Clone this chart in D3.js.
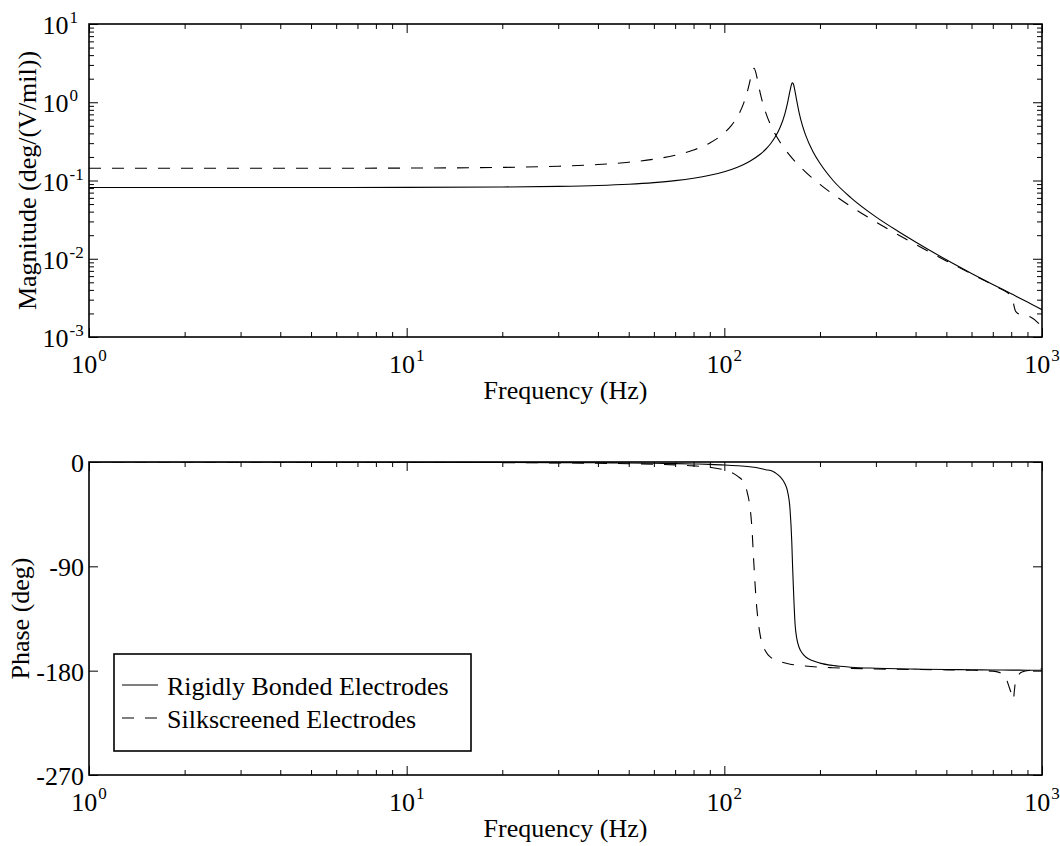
<!DOCTYPE html>
<html>
<head>
<meta charset="utf-8">
<script src="https://cdn.jsdelivr.net/npm/d3@7"></script>
<style>
  body { margin: 0; background: #fff; }
  text { font-family: "Liberation Serif", "Times New Roman", serif; fill: #000; }
</style>
</head>
<body>
<svg id="chart" width="1060" height="846"></svg>
<script>
// ---- Frequency response: rigidly bonded electrodes ----
const rigidFreq  = [1, 2, 5, 10, 20, 30, 40, 50, 60, 70, 80, 90, 100, 110, 120, 130, 135, 140, 145, 150,
                    155, 158, 161, 163, 164, 165, 167, 169, 172, 176, 180, 190, 200, 220, 250, 300, 350,
                    400, 500, 600, 700, 800, 900, 1000];
const rigidMag   = [0.0814, 0.0814, 0.0815, 0.0817, 0.0826, 0.0842, 0.0865, 0.0897, 0.094, 0.0995, 0.1068,
                    0.1165, 0.1296, 0.148, 0.1752, 0.218, 0.2508, 0.2971, 0.3667, 0.4822, 0.7063, 0.9659,
                    1.409, 1.727, 1.777, 1.708, 1.369, 1.046, 0.7337, 0.5105, 0.3862, 0.2351, 0.166, 0.1,
                    0.0605, 0.0343, 0.0228, 0.0164, 0.0097, 0.0065, 0.0047, 0.00357, 0.0028, 0.00223];
const rigidPhase = [0, -0.03, -0.08, -0.16, -0.33, -0.5, -0.68, -0.88, -1.11, -1.37, -1.68, -2.06, -2.55,
                    -3.2, -4.13, -5.58, -6.67, -7.4, -9.5, -12.8, -18.5, -25, -41, -68, -90, -109, -140,
                    -152, -160, -165, -168, -171.5, -173.5, -175.6, -177, -177.9, -178.4, -178.7, -179,
                    -179.2, -179.4, -179.5, -179.6, -179.7];

// ---- Frequency response: silkscreened electrodes ----
const silkFreq  = [1, 2, 5, 10, 20, 30, 40, 50, 60, 70, 80, 90, 100, 105, 110, 115, 118, 120, 122, 124,
                   126, 128, 130, 135, 140, 145, 150, 160, 180, 200, 220, 250, 300, 350, 400, 500, 600,
                   700, 737, 760, 790, 805, 813, 818, 825, 840, 852, 870, 920, 970, 1000];
const silkMag   = [0.1432, 0.1432, 0.1434, 0.1441, 0.147, 0.1521, 0.1598, 0.171, 0.187, 0.2102, 0.2453,
                   0.3016, 0.4066, 0.4999, 0.6564, 0.9665, 1.34, 1.76, 2.354, 2.722, 2.289, 1.682, 1.263,
                   0.7383, 0.5095, 0.3843, 0.3062, 0.2142, 0.129, 0.0894, 0.0667, 0.0467, 0.0295, 0.02055,
                   0.01522, 0.00939, 0.00639, 0.00464, 0.00416, 0.00392, 0.0035, 0.00312, 0.00272, 0.0024,
                   0.00215, 0.002, 0.00195, 0.00191, 0.0018, 0.00153, 0.00134];
const silkPhase = [0, -0.05, -0.12, -0.24, -0.5, -0.77, -1.09, -1.45, -1.9, -2.5, -3.33, -4.61, -6.92,
                   -8.9, -12.2, -17.5, -26, -36, -55, -90, -120, -139, -151, -163.5, -168.5, -170.8, -172.3,
                   -174.2, -176, -177, -177.5, -178, -178.5, -178.8, -179, -179.3, -179.6, -180.4, -181.7,
                   -183.3, -195, -201.5, -205, -198, -189.5, -184.5, -182.3, -181, -179.6, -178.8, -178.3];

// ---- Axis ticks and labels ----
const freqDecades   = [0, 1, 2, 3];          // 10^0 .. 10^3 Hz
const magDecades    = [-3, -2, -1, 0, 1];    // 10^-3 .. 10^1
const phaseTicks    = [0, -90, -180, -270];
const legendLabels  = ["Rigidly Bonded Electrodes", "Silkscreened Electrodes"];
const freqLabel     = "Frequency (Hz)";
const magLabel      = "Magnitude (deg/(V/mil))";
const phaseLabel    = "Phase (deg)";

// ---- Layout ----
const left = 89, right = 1042;
const magTop = 24, magBottom = 337;
const phTop = 462, phBottom = 775;
const fontSize = 26, supSize = 17;
const majorLen = 9, minorLen = 5;
const dash = "12,11";

const svg = d3.select("#chart");
svg.append("rect").attr("width", 1060).attr("height", 846).attr("fill", "#fff");

const x = d3.scaleLog().domain([1, 1000]).range([left, right]);
const yMag = d3.scaleLog().domain([1e-3, 10]).range([magBottom, magTop]);
const yPh = d3.scaleLinear().domain([-270, 0]).range([phBottom, phTop]);

const freqMajor = freqDecades.map(d => Math.pow(10, d));
const freqMinor = [];
freqDecades.slice(0, -1).forEach(d => { for (let k = 2; k <= 9; k++) freqMinor.push(k * Math.pow(10, d)); });
const magMajor = magDecades.map(d => Math.pow(10, d));
const magMinor = [];
magDecades.slice(0, -1).forEach(d => { for (let k = 2; k <= 9; k++) magMinor.push(k * Math.pow(10, d)); });

function tickAxis(g, axisFn, scale, values, len, tx, ty) {
  const a = axisFn(scale).tickValues(values).tickSize(-len).tickFormat("");
  const sel = g.append("g").attr("transform", `translate(${tx},${ty})`).call(a);
  sel.select(".domain").remove();
  sel.selectAll(".tick line").attr("stroke", "#000").attr("stroke-width", 1);
}

function drawPanel(id, yScale, top, bottom, yMajor, yMinor) {
  const g = svg.append("g").attr("class", id);
  // ticks on all four sides, pointing inward
  tickAxis(g, d3.axisBottom, x, freqMajor, majorLen, 0, bottom);
  tickAxis(g, d3.axisBottom, x, freqMinor, minorLen, 0, bottom);
  tickAxis(g, d3.axisTop, x, freqMajor, majorLen, 0, top);
  tickAxis(g, d3.axisTop, x, freqMinor, minorLen, 0, top);
  tickAxis(g, d3.axisLeft, yScale, yMajor, majorLen, left, 0);
  tickAxis(g, d3.axisRight, yScale, yMajor, majorLen, right, 0);
  if (yMinor.length) {
    tickAxis(g, d3.axisLeft, yScale, yMinor, minorLen, left, 0);
    tickAxis(g, d3.axisRight, yScale, yMinor, minorLen, right, 0);
  }
  // frequency tick labels, 10 with exponent
  freqDecades.forEach(d => {
    const t = g.append("text").attr("x", x(Math.pow(10, d))).attr("y", bottom + 36)
      .attr("text-anchor", "middle").attr("font-size", fontSize);
    t.append("tspan").text("10");
    t.append("tspan").attr("dx", 1).attr("dy", -12).attr("font-size", supSize).text(d);
  });
  g.append("text").attr("x", (left + right) / 2).attr("y", bottom + 62)
    .attr("text-anchor", "middle").attr("font-size", fontSize).text(freqLabel);
  // frame
  g.append("rect").attr("x", left).attr("y", top).attr("width", right - left).attr("height", bottom - top)
    .attr("fill", "none").attr("stroke", "#000").attr("stroke-width", 1.6);
  return g;
}

// ---- Magnitude panel ----
const gMag = drawPanel("magnitude", yMag, magTop, magBottom, magMajor, magMinor);
magDecades.forEach(d => {
  const yy = yMag(Math.pow(10, d)) + 10;
  gMag.append("text").attr("x", 68.5).attr("y", yy).attr("text-anchor", "end")
    .attr("font-size", fontSize).text("10");
  gMag.append("text").attr("x", 69.5).attr("y", yy - 11).attr("font-size", supSize).text(d);
});
gMag.append("text").attr("transform", `translate(36,${(magTop + magBottom) / 2}) rotate(-90)`)
  .attr("text-anchor", "middle").attr("font-size", fontSize).text(magLabel);

// ---- Phase panel ----
const gPh = drawPanel("phase", yPh, phTop, phBottom, phaseTicks, []);
phaseTicks.forEach(v => {
  gPh.append("text").attr("x", 84).attr("y", yPh(v) + 10).attr("text-anchor", "end")
    .attr("font-size", fontSize).text(v);
});
gPh.append("text").attr("transform", `translate(29,${(phTop + phBottom) / 2}) rotate(-90)`)
  .attr("text-anchor", "middle").attr("font-size", fontSize).text(phaseLabel);

// ---- Curves ----
const defs = svg.append("defs");
defs.append("clipPath").attr("id", "clipMag").append("rect")
  .attr("x", left).attr("y", magTop).attr("width", right - left).attr("height", magBottom - magTop);
defs.append("clipPath").attr("id", "clipPh").append("rect")
  .attr("x", left).attr("y", phTop).attr("width", right - left).attr("height", phBottom - phTop);

function series(freq, vals) { return freq.map((f, i) => ({ f, v: vals[i] })); }

const magLine = d3.line().x(d => x(d.f)).y(d => yMag(d.v)).curve(d3.curveMonotoneX);
const phLine = d3.line().x(d => x(d.f)).y(d => yPh(d.v)).curve(d3.curveMonotoneX);

const curves = svg.append("g");
curves.append("path").attr("clip-path", "url(#clipMag)").attr("d", magLine(series(rigidFreq, rigidMag)))
  .attr("fill", "none").attr("stroke", "#000").attr("stroke-width", 1.1);
curves.append("path").attr("clip-path", "url(#clipMag)").attr("d", magLine(series(silkFreq, silkMag)))
  .attr("fill", "none").attr("stroke", "#000").attr("stroke-width", 1.1).attr("stroke-dasharray", dash);
curves.append("path").attr("clip-path", "url(#clipPh)").attr("d", phLine(series(rigidFreq, rigidPhase)))
  .attr("fill", "none").attr("stroke", "#000").attr("stroke-width", 1.1);
curves.append("path").attr("clip-path", "url(#clipPh)").attr("d", phLine(series(silkFreq, silkPhase)))
  .attr("fill", "none").attr("stroke", "#000").attr("stroke-width", 1.1).attr("stroke-dasharray", dash);

// ---- Legend ----
const lg = svg.append("g").attr("class", "legend");
lg.append("rect").attr("x", 114).attr("y", 654).attr("width", 357).attr("height", 97)
  .attr("fill", "#fff").attr("stroke", "#000").attr("stroke-width", 1.6);
[[685, null], [718, dash]].forEach(([yy, da], i) => {
  const ln = lg.append("line").attr("x1", 122).attr("x2", 158).attr("y1", yy).attr("y2", yy)
    .attr("stroke", "#000").attr("stroke-width", 1.1);
  if (da) ln.attr("stroke-dasharray", da);
  lg.append("text").attr("x", 167).attr("y", yy + 10).attr("font-size", fontSize).text(legendLabels[i]);
});
</script>
</body>
</html>
